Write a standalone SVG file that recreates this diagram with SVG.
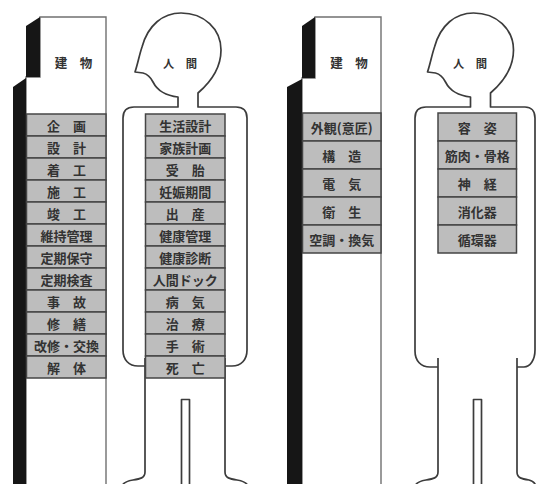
<svg xmlns="http://www.w3.org/2000/svg" width="536" height="484" viewBox="0 0 536 484">
  <style>
    .face { fill: #ffffff; stroke: #707070; stroke-width: 1.4; }
    .side { fill: #161616; }
    .cell { fill: #bdbdbd; stroke: #454545; stroke-width: 1.5; }
    .body { fill: none; stroke: #3c3c3c; stroke-width: 1.7; stroke-linejoin: round; stroke-linecap: butt; }
    .t { font-family: "Noto Sans CJK JP", "Noto Sans CJK SC", sans-serif; font-weight: bold; fill: #333333; text-anchor: middle; dominant-baseline: central; }
    .c { font-size: 13px; }
    .lbl { font-size: 12.5px; }
    .lbl2 { font-size: 11.3px; }
  </style>
  <rect width="536" height="484" fill="#ffffff"/>

  <!-- building: life-cycle stages -->
  <g id="building-lifecycle">
    <path class="face" d="M40,17 H106 V490 H26 V77 H40 Z"/>
    <polygon class="side" points="26,26 40,17 40,77 26,77"/>
    <polygon class="side" points="13,87 26,78 26,490 13,490"/>
    <text class="t lbl" x="73.5" y="62">建　物</text>
    <g id="building-lifecycle-stages">
      <rect class="cell" x="26.5" y="114" width="79.5" height="22"/>
      <rect class="cell" x="26.5" y="136" width="79.5" height="22"/>
      <rect class="cell" x="26.5" y="158" width="79.5" height="22"/>
      <rect class="cell" x="26.5" y="180" width="79.5" height="22"/>
      <rect class="cell" x="26.5" y="202" width="79.5" height="22"/>
      <rect class="cell" x="26.5" y="224" width="79.5" height="22"/>
      <rect class="cell" x="26.5" y="246" width="79.5" height="22"/>
      <rect class="cell" x="26.5" y="268" width="79.5" height="22"/>
      <rect class="cell" x="26.5" y="290" width="79.5" height="22"/>
      <rect class="cell" x="26.5" y="312" width="79.5" height="22"/>
      <rect class="cell" x="26.5" y="334" width="79.5" height="22"/>
      <rect class="cell" x="26.5" y="356" width="79.5" height="22"/>
      <text class="t c" x="66.5" y="125">企　画</text>
      <text class="t c" x="66.5" y="147">設　計</text>
      <text class="t c" x="66.5" y="169">着　工</text>
      <text class="t c" x="66.5" y="191">施　工</text>
      <text class="t c" x="66.5" y="213">竣　工</text>
      <text class="t c" x="66.5" y="235">維持管理</text>
      <text class="t c" x="66.5" y="257">定期保守</text>
      <text class="t c" x="66.5" y="279">定期検査</text>
      <text class="t c" x="66.5" y="301">事　故</text>
      <text class="t c" x="66.5" y="323">修　繕</text>
      <text class="t c" x="66.5" y="345">改修・交換</text>
      <text class="t c" x="66.5" y="367">解　体</text>
    </g>
  </g>

  <!-- human: life stages -->
  <g id="human-lifecycle">
    <path class="body" d="M145,366 H138 C129,366 123,360 123,350 V118 C123,111 127,107 134,107 H178 V97 C166,96 157,90 153,82 C150,76 147,74 143,73 L135,72 C138,63 139,56 142,47 C148,25 163,13 181,13 C204,13 221,29 221,50 C221,67 212,81 198,93 V107 H236 C243,107 247,111 247,118 V350 C247,360 241,366 232,366 H225"/>
    <path class="body" d="M145,358 V472 C145,478 140,479 133,480 C127,481 123,483 122,486"/>
    <path class="body" d="M225,358 V472 C225,478 230,479 237,480 C243,481 247,483 248,486"/>
    <path class="body" d="M181.5,490 V399.5 H189.5 V490"/>
    <text class="t lbl2" x="180" y="63">人　間</text>
    <g id="human-lifecycle-stages">
      <rect class="cell" x="145.5" y="114" width="79.5" height="22"/>
      <rect class="cell" x="145.5" y="136" width="79.5" height="22"/>
      <rect class="cell" x="145.5" y="158" width="79.5" height="22"/>
      <rect class="cell" x="145.5" y="180" width="79.5" height="22"/>
      <rect class="cell" x="145.5" y="202" width="79.5" height="22"/>
      <rect class="cell" x="145.5" y="224" width="79.5" height="22"/>
      <rect class="cell" x="145.5" y="246" width="79.5" height="22"/>
      <rect class="cell" x="145.5" y="268" width="79.5" height="22"/>
      <rect class="cell" x="145.5" y="290" width="79.5" height="22"/>
      <rect class="cell" x="145.5" y="312" width="79.5" height="22"/>
      <rect class="cell" x="145.5" y="334" width="79.5" height="22"/>
      <rect class="cell" x="145.5" y="356" width="79.5" height="22"/>
      <text class="t c" x="185.25" y="125">生活設計</text>
      <text class="t c" x="185.25" y="147">家族計画</text>
      <text class="t c" x="185.25" y="169">受　胎</text>
      <text class="t c" x="185.25" y="191">妊娠期間</text>
      <text class="t c" x="185.25" y="213">出　産</text>
      <text class="t c" x="185.25" y="235">健康管理</text>
      <text class="t c" x="185.25" y="257">健康診断</text>
      <text class="t c" x="185.25" y="279">人間ドック</text>
      <text class="t c" x="185.25" y="301">病　気</text>
      <text class="t c" x="185.25" y="323">治　療</text>
      <text class="t c" x="185.25" y="345">手　術</text>
      <text class="t c" x="185.25" y="367">死　亡</text>
    </g>
  </g>

  <!-- building: systems -->
  <g id="building-systems">
    <path class="face" d="M315,17 H381 V490 H302 V78 H315 Z"/>
    <polygon class="side" points="302,26 315,17 315,78 302,78"/>
    <polygon class="side" points="287,87 302,79 302,490 287,490"/>
    <text class="t lbl" x="349" y="62">建　物</text>
    <g id="building-systems-parts">
      <rect class="cell" x="302.5" y="113" width="78.5" height="28"/>
      <rect class="cell" x="302.5" y="141" width="78.5" height="28"/>
      <rect class="cell" x="302.5" y="169" width="78.5" height="28"/>
      <rect class="cell" x="302.5" y="197" width="78.5" height="28"/>
      <rect class="cell" x="302.5" y="225" width="78.5" height="28"/>
      <text class="t c" x="341.75" y="127">外観(意匠)</text>
      <text class="t c" x="341.75" y="155">構　造</text>
      <text class="t c" x="341.75" y="183">電　気</text>
      <text class="t c" x="341.75" y="211">衛　生</text>
      <text class="t c" x="341.75" y="239">空調・換気</text>
    </g>
  </g>

  <!-- human: body systems -->
  <g id="human-systems">
    <path class="body" d="M438,367 H430 C421,367 415,361 415,351 V118 C415,111 419,107 426,107 H470.5 V97 C458.5,96 449.5,90 445.5,82 C442.5,76 439.5,74 435.5,73 L427.5,72 C430.5,63 431.5,56 434.5,47 C440.5,25 455.5,13 473.5,13 C496.5,13 513.5,29 513.5,50 C513.5,67 504.5,81 490.5,93 V107 H525 C531,107 535,111 535,118 V350 C535,360 530,367 524,367 H517"/>
    <path class="body" d="M438,358 V472 C438,478 433,479 426,480 C420,481 416,483 415,486"/>
    <path class="body" d="M517,358 V472 C517,478 522,479 529,480 C533,481 535,483 536,486"/>
    <path class="body" d="M473.5,490 V399.5 H481.5 V490"/>
    <text class="t lbl2" x="470" y="63">人　間</text>
    <g id="human-systems-parts">
      <rect class="cell" x="438" y="113" width="78.5" height="28"/>
      <rect class="cell" x="438" y="141" width="78.5" height="28"/>
      <rect class="cell" x="438" y="169" width="78.5" height="28"/>
      <rect class="cell" x="438" y="197" width="78.5" height="28"/>
      <rect class="cell" x="438" y="225" width="78.5" height="28"/>
      <text class="t c" x="477.25" y="127">容　姿</text>
      <text class="t c" x="477.25" y="155">筋肉・骨格</text>
      <text class="t c" x="477.25" y="183">神　経</text>
      <text class="t c" x="477.25" y="211">消化器</text>
      <text class="t c" x="477.25" y="239">循環器</text>
    </g>
  </g>
</svg>
